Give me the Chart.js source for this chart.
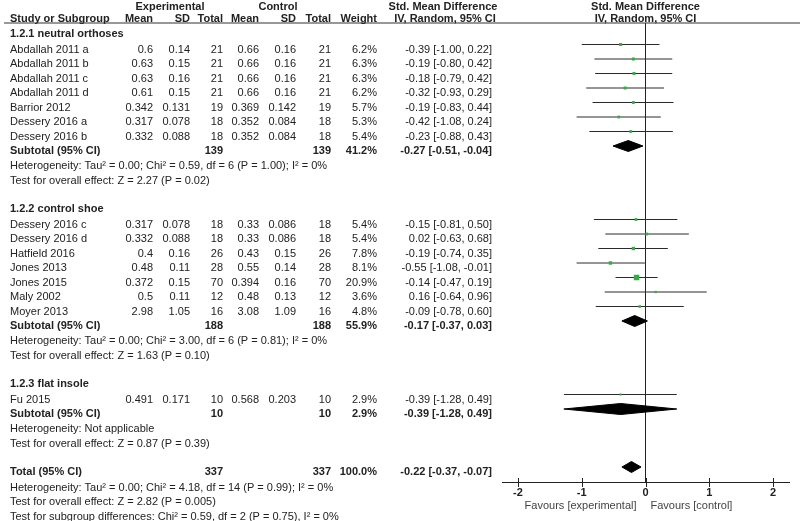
<!DOCTYPE html>
<html>
<head>
<meta charset="utf-8">
<script src="https://cdn.jsdelivr.net/npm/chart.js@4.4.1/dist/chart.umd.min.js"></script>
<style>
  html, body { margin: 0; padding: 0; background: #fff; }
  canvas { display: block; }
</style>
</head>
<body>
<canvas id="forest" width="800" height="521"></canvas>
<script>
// Forest plot: Std. Mean Difference, IV, Random, 95% CI
const groupTitles = ['1.2.1 neutral orthoses', '1.2.2 control shoe', '1.2.3 flat insole'];

const studyNames = [
  'Abdallah 2011 a', 'Abdallah 2011 b', 'Abdallah 2011 c', 'Abdallah 2011 d',
  'Barrior 2012', 'Dessery 2016 a', 'Dessery 2016 b',
  'Dessery 2016 c', 'Dessery 2016 d', 'Hatfield 2016', 'Jones 2013',
  'Jones 2015', 'Maly 2002', 'Moyer 2013',
  'Fu 2015'
];
const studyGroup = [0, 0, 0, 0, 0, 0, 0, 1, 1, 1, 1, 1, 1, 1, 2];

const expMean = [0.6, 0.63, 0.63, 0.61, 0.342, 0.317, 0.332, 0.317, 0.332, 0.4, 0.48, 0.372, 0.5, 2.98, 0.491];
const expSD   = [0.14, 0.15, 0.16, 0.15, 0.131, 0.078, 0.088, 0.078, 0.088, 0.16, 0.11, 0.15, 0.11, 1.05, 0.171];
const expN    = [21, 21, 21, 21, 19, 18, 18, 18, 18, 26, 28, 70, 12, 16, 10];
const ctlMean = [0.66, 0.66, 0.66, 0.66, 0.369, 0.352, 0.352, 0.33, 0.33, 0.43, 0.55, 0.394, 0.48, 3.08, 0.568];
const ctlSD   = [0.16, 0.16, 0.16, 0.16, 0.142, 0.084, 0.084, 0.086, 0.086, 0.15, 0.14, 0.16, 0.13, 1.09, 0.203];
const ctlN    = [21, 21, 21, 21, 19, 18, 18, 18, 18, 26, 28, 70, 12, 16, 10];
const weight  = [6.2, 6.3, 6.3, 6.2, 5.7, 5.3, 5.4, 5.4, 5.4, 7.8, 8.1, 20.9, 3.6, 4.8, 2.9];
const smd     = [-0.39, -0.19, -0.18, -0.32, -0.19, -0.42, -0.23, -0.15, 0.02, -0.19, -0.55, -0.14, 0.16, -0.09, -0.39];
const ciLow   = [-1.00, -0.80, -0.79, -0.93, -0.83, -1.08, -0.88, -0.81, -0.63, -0.74, -1.08, -0.47, -0.64, -0.78, -1.28];
const ciHigh  = [0.22, 0.42, 0.42, 0.29, 0.44, 0.24, 0.43, 0.50, 0.68, 0.35, -0.01, 0.19, 0.96, 0.60, 0.49];

const subExpN   = [139, 188, 10];
const subCtlN   = [139, 188, 10];
const subWeight = [41.2, 55.9, 2.9];
const subSmd    = [-0.27, -0.17, -0.39];
const subLow    = [-0.51, -0.37, -1.28];
const subHigh   = [-0.04, 0.03, 0.49];
const subHet = [
  'Heterogeneity: Tau² = 0.00; Chi² = 0.59, df = 6 (P = 1.00); I² = 0%',
  'Heterogeneity: Tau² = 0.00; Chi² = 3.00, df = 6 (P = 0.81); I² = 0%',
  'Heterogeneity: Not applicable'
];
const subTest = [
  'Test for overall effect: Z = 2.27 (P = 0.02)',
  'Test for overall effect: Z = 1.63 (P = 0.10)',
  'Test for overall effect: Z = 0.87 (P = 0.39)'
];

const totalN      = [337, 337];
const totalWeight = 100.0;
const totalCI     = [-0.22, -0.37, -0.07];
const totalNotes = [
  'Heterogeneity: Tau² = 0.00; Chi² = 4.18, df = 14 (P = 0.99); I² = 0%',
  'Test for overall effect: Z = 2.82 (P = 0.005)',
  'Test for subgroup differences: Chi² = 0.59, df = 2 (P = 0.75), I² = 0%'
];

const favourLabels = ['Favours [experimental]', 'Favours [control]'];

// ---- layout ----
const LINE = 14.5;            // px per table line
const TOP = 23, BOTTOM = 482; // plot area, header rule down to the axis
const FONT = '11px "Liberation Sans", Arial, sans-serif';
const BOLD = 'bold ' + FONT;
const INK = '#222';
const GREEN = '#35ad46';
const markShift = 4 / LINE;   // marks sit a little above the text centre
const diamondHalf = 5.5 / LINE;

const rows = [];
let pos = 10 / LINE;
const step = px => { pos += px / LINE; };

groupTitles.forEach((title, g) => {
  if (g > 0) step(28);
  rows.push({ kind: 'title', text: title, pos });
  step(15.5);
  let first = true;
  studyNames.forEach((name, i) => {
    if (studyGroup[i] !== g) return;
    if (!first) step(LINE);
    first = false;
    rows.push({ kind: 'study', i, pos });
  });
  step(LINE);
  rows.push({ kind: 'subtotal', g, pos });
  step(15);
  rows.push({ kind: 'note', text: subHet[g], pos });
  step(15);
  rows.push({ kind: 'note', text: subTest[g], pos });
});
step(28);
rows.push({ kind: 'total', pos });
totalNotes.forEach((t, k) => {
  step(k === 0 ? 15.5 : LINE);
  rows.push({ kind: 'note', text: t, pos });
});

const ciText = (e, l, h) => `${e.toFixed(2)} [${l.toFixed(2)}, ${h.toFixed(2)}]`;

// ---- datasets ----
const studyRows = rows.filter(r => r.kind === 'study');
const datasets = [];

datasets.push({
  label: 'study',
  data: studyRows.map(r => ({ x: smd[r.i], y: r.pos - markShift })),
  pointStyle: 'rect',
  pointRadius: ctx => 0.85 * Math.sqrt(weight[studyRows[ctx.dataIndex].i]),
  backgroundColor: GREEN,
  borderWidth: 0
});

const summaries = rows.filter(r => r.kind === 'subtotal' || r.kind === 'total').map(r => {
  if (r.kind === 'total') return { p: r.pos - markShift, e: totalCI[0], l: totalCI[1], h: totalCI[2] };
  return { p: r.pos - markShift, e: subSmd[r.g], l: subLow[r.g], h: subHigh[r.g] };
});
summaries.forEach(s => {
  datasets.push({
    label: 'diamond-top',
    data: [{ x: s.l, y: s.p }, { x: s.e, y: s.p - diamondHalf }, { x: s.h, y: s.p }],
    showLine: true, borderColor: '#000', borderWidth: 1, pointRadius: 0, fill: false
  });
  datasets.push({
    label: 'diamond-bottom',
    data: [{ x: s.l, y: s.p }, { x: s.e, y: s.p + diamondHalf }, { x: s.h, y: s.p }],
    showLine: true, borderColor: '#000', borderWidth: 1, pointRadius: 0,
    backgroundColor: '#000', fill: '-1'
  });
});

studyRows.forEach(r => {
  datasets.push({
    label: 'ci',
    data: [{ x: ciLow[r.i], y: r.pos - markShift }, { x: ciHigh[r.i], y: r.pos - markShift }],
    showLine: true, borderColor: '#2a2a2a', borderWidth: 1, pointRadius: 0, fill: false
  });
});

// ---- table text, header rule, axis ticks ----
const tablePlugin = {
  id: 'tableText',
  afterDraw(chart) {
    const { ctx, scales: { x, y } } = chart;
    const zero = x.getPixelForValue(0);
    const base = p => y.getPixelForValue(p) + 4;
    const put = (text, px, py, align, font, color) => {
      ctx.font = font || FONT;
      ctx.fillStyle = color || INK;
      ctx.textAlign = align || 'left';
      ctx.fillText(text, px, py);
    };

    ctx.save();
    ctx.textBaseline = 'alphabetic';

    // column headers
    put('Experimental', 170, 10, 'center', BOLD);
    put('Control', 278, 10, 'center', BOLD);
    put('Std. Mean Difference', 443, 10, 'center', BOLD);
    put('Std. Mean Difference', zero, 10, 'center', BOLD);
    put('Study or Subgroup', 10, 21.5, 'left', BOLD);
    put('Mean', 153, 21.5, 'right', BOLD);
    put('SD', 190, 21.5, 'right', BOLD);
    put('Total', 223, 21.5, 'right', BOLD);
    put('Mean', 259, 21.5, 'right', BOLD);
    put('SD', 296, 21.5, 'right', BOLD);
    put('Total', 331, 21.5, 'right', BOLD);
    put('Weight', 377, 21.5, 'right', BOLD);
    put('IV, Random, 95% CI', 445, 21.5, 'center', BOLD);
    put('IV, Random, 95% CI', zero, 21.5, 'center', BOLD);

    ctx.strokeStyle = '#333';
    ctx.lineWidth = 1.2;
    ctx.beginPath();
    ctx.moveTo(4, TOP);
    ctx.lineTo(800, TOP);
    ctx.stroke();

    rows.forEach(r => {
      const by = base(r.pos);
      if (r.kind === 'title') {
        put(r.text, 10, by, 'left', BOLD);
      } else if (r.kind === 'study') {
        const i = r.i;
        put(studyNames[i], 10, by);
        put(String(expMean[i]), 153, by, 'right');
        put(String(expSD[i]), 190, by, 'right');
        put(String(expN[i]), 223, by, 'right');
        put(String(ctlMean[i]), 259, by, 'right');
        put(String(ctlSD[i]), 296, by, 'right');
        put(String(ctlN[i]), 331, by, 'right');
        put(weight[i].toFixed(1) + '%', 377, by, 'right');
        put(ciText(smd[i], ciLow[i], ciHigh[i]), 492, by, 'right');
      } else if (r.kind === 'subtotal') {
        const g = r.g;
        put('Subtotal (95% CI)', 10, by, 'left', BOLD);
        put(String(subExpN[g]), 223, by, 'right', BOLD);
        put(String(subCtlN[g]), 331, by, 'right', BOLD);
        put(subWeight[g].toFixed(1) + '%', 377, by, 'right', BOLD);
        put(ciText(subSmd[g], subLow[g], subHigh[g]), 492, by, 'right', BOLD);
      } else if (r.kind === 'total') {
        put('Total (95% CI)', 10, by, 'left', BOLD);
        put(String(totalN[0]), 223, by, 'right', BOLD);
        put(String(totalN[1]), 331, by, 'right', BOLD);
        put(totalWeight.toFixed(1) + '%', 377, by, 'right', BOLD);
        put(ciText(totalCI[0], totalCI[1], totalCI[2]), 492, by, 'right', BOLD);
      } else {
        put(r.text, 10, by);
      }
    });

    // tick marks crossing the axis
    ctx.strokeStyle = INK;
    ctx.lineWidth = 1;
    x.ticks.forEach(t => {
      const px = Math.round(x.getPixelForValue(t.value)) + 0.5;
      ctx.beginPath();
      ctx.moveTo(px, BOTTOM - 4);
      ctx.lineTo(px, BOTTOM + 5);
      ctx.stroke();
    });

    put(favourLabels[0], zero - 9, 509, 'right', FONT, '#444');
    put(favourLabels[1], zero + 5, 509, 'left', FONT, '#444');
    ctx.restore();
  }
};

new Chart(document.getElementById('forest').getContext('2d'), {
  type: 'scatter',
  data: { datasets },
  options: {
    responsive: false,
    animation: false,
    events: [],
    layout: { padding: { left: 502, right: 11, top: TOP, bottom: 0 } },
    plugins: { legend: { display: false }, tooltip: { enabled: false } },
    scales: {
      x: {
        type: 'linear',
        min: -2.25,
        max: 2.25,
        afterFit: scale => { scale.height = 521 - BOTTOM; },
        border: { display: true, color: INK, width: 1 },
        grid: {
          drawTicks: false,
          color: c => (c.tick && c.tick.value === 0) ? INK : 'rgba(0,0,0,0)',
          lineWidth: 1
        },
        ticks: {
          stepSize: 1,
          includeBounds: false,
          padding: 4,
          color: INK,
          font: { family: '"Liberation Sans", Arial, sans-serif', size: 11, weight: 'bold' }
        }
      },
      y: {
        type: 'linear',
        display: false,
        reverse: true,
        min: 0,
        max: (BOTTOM - TOP) / LINE
      }
    }
  },
  plugins: [tablePlugin]
});
</script>
</body>
</html>
